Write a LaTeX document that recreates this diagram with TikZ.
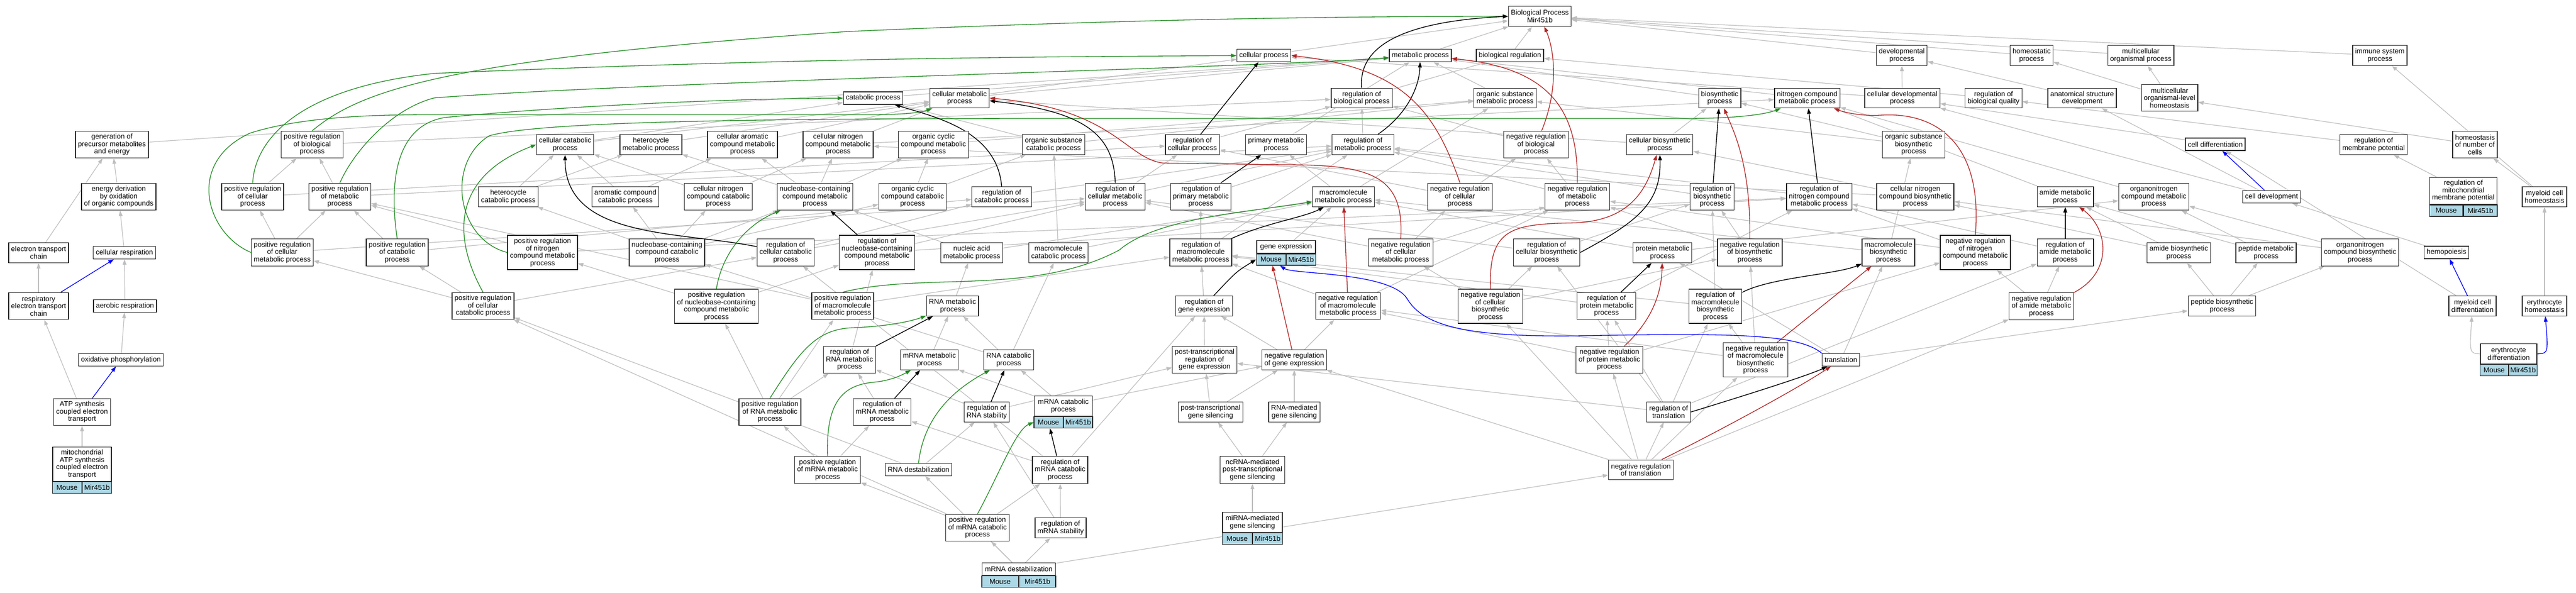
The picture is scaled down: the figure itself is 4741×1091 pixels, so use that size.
\documentclass[tikz,border=0pt]{standalone}
\usepackage{fontspec}
\setmainfont{Liberation Sans}
\usepackage{tikz}
\usetikzlibrary{arrows.meta}
\usetikzlibrary{backgrounds}
\definecolor{edgegray}{RGB}{190,190,190}
\definecolor{posgreen}{RGB}{34,139,34}
\definecolor{negred}{RGB}{178,34,34}
\definecolor{genecell}{RGB}{173,216,230}
\newcommand{\mirbar}[2]{%
  \node [mcell, minimum width=#2pt, anchor=north east] (#1a) at (#1.south) {Mouse};
  \node [mcell, minimum width=#2pt, anchor=north west] (#1b) at (#1.south) {Mir451b};}

\begin{document}
\begin{tikzpicture}[x=1pt, y=-1pt,
    go/.style={draw=black!85, line width=1.3pt, fill=white, align=center, inner xsep=4.5pt, inner ysep=0pt, font=\fontsize{13}{13.5}\selectfont},
    lna/.style={minimum height=23pt},
    lnb/.style={minimum height=36.5pt},
    lnc/.style={minimum height=49.5pt},
    lnd/.style={minimum height=63pt},
    mcell/.style={draw=black!85, line width=1.3pt, fill=genecell, inner sep=0pt, minimum height=21pt, font=\fontsize{13}{13.5}\selectfont},
    isa/.style={draw=edgegray, line width=1.2pt, -{Triangle[length=10pt,width=7pt]}},
    reg/.style={draw=black, line width=1.4pt, -{Triangle[length=10pt,width=7pt]}},
    posreg/.style={draw=posgreen, line width=1.3pt, -{Triangle[length=10pt,width=7pt]}},
    negreg/.style={draw=negred, line width=1.3pt, -{Triangle[length=10pt,width=7pt]}},
    partof/.style={draw=blue, line width=1.3pt, -{Triangle[length=10pt,width=7pt]}}]
    \useasboundingbox (0,0) rectangle (4741,1091);

    \node [go, lnb] (bp) at (2834, 30) {Biological Process\\Mir451b};

    \node [go, lna] (cellproc) at (2326, 102) {cellular process};
    \node [go, lna] (metproc) at (2614, 102) {metabolic process};
    \node [go, lna] (bioreg) at (2779, 102) {biological regulation};
    \node [go, lnb] (devproc) at (3500, 102) {developmental\\process};
    \node [go, lnb] (homproc) at (3739, 102) {homeostatic\\process};
    \node [go, lnb] (multproc) at (3940, 102) {multicellular\\organismal process};
    \node [go, lnb] (immproc) at (4380, 102) {immune system\\process};

    \node [go, lna] (catproc) at (1607, 180.5) {catabolic process};
    \node [go, lnb] (cellmet) at (1766, 180.5) {cellular metabolic\\process};
    \node [go, lnb] (regbio) at (2506, 180.5) {regulation of\\biological process};
    \node [go, lnb] (orgsubmet) at (2770, 180.5) {organic substance\\metabolic process};
    \node [go, lnb] (biosyn) at (3165, 180.5) {biosynthetic\\process};
    \node [go, lnb] (nitromet) at (3326, 180.5) {nitrogen compound\\metabolic process};
    \node [go, lnb] (celldevproc) at (3501, 180.5) {cellular developmental\\process};
    \node [go, lnb] (regqual) at (3669, 180.5) {regulation of\\biological quality};
    \node [go, lnb] (anatdev) at (3832, 180.5) {anatomical structure\\development};
    \node [go, lnc] (multhom) at (3993, 180) {multicellular\\organismal-level\\homeostasis};

    \node [go, lnc] (genprec) at (206, 266) {generation of\\precursor metabolites\\and energy};
    \node [go, lnc] (posregbio) at (574.5, 266) {positive regulation\\of biological\\process};
    \node [go, lnb] (cellcat) at (1040, 266) {cellular catabolic\\process};
    \node [go, lnb] (hetmet) at (1198, 266) {heterocycle\\metabolic process};
    \node [go, lnc] (cellarom) at (1366.5, 266) {cellular aromatic\\compound metabolic\\process};
    \node [go, lnc] (cellnitmet) at (1542.5, 266) {cellular nitrogen\\compound metabolic\\process};
    \node [go, lnc] (orgcycmet) at (1718, 266) {organic cyclic\\compound metabolic\\process};
    \node [go, lnb] (orgsubcat) at (1939, 266) {organic substance\\catabolic process};
    \node [go, lnb] (regcell) at (2194.5, 266) {regulation of\\cellular process};
    \node [go, lnb] (primmet) at (2348.5, 266) {primary metabolic\\process};
    \node [go, lnb] (regmet) at (2508.5, 266) {regulation of\\metabolic process};
    \node [go, lnc] (negregbio) at (2827, 266) {negative regulation\\of biological\\process};
    \node [go, lnb] (cellbiosyn) at (3054.5, 266) {cellular biosynthetic\\process};
    \node [go, lnc] (orgsubbiosyn) at (3522, 266) {organic substance\\biosynthetic\\process};
    \node [go, lna] (celldiff) at (4077, 265.5) {cell differentiation};
    \node [go, lnb] (regmemb) at (4368.5, 266) {regulation of\\membrane potential};
    \node [go, lnc] (homnum) at (4555, 266) {homeostasis\\of number of\\cells};

    \node [go, lnc] (energy) at (218.5, 362) {energy derivation\\by oxidation\\of organic compounds};
    \node [go, lnc] (posregcell) at (465, 362) {positive regulation\\of cellular\\process};
    \node [go, lnc] (posregmet) at (625.5, 362) {positive regulation\\of metabolic\\process};
    \node [go, lnb] (hetcat) at (935.5, 362) {heterocycle\\catabolic process};
    \node [go, lnb] (aromcat) at (1151, 362) {aromatic compound\\catabolic process};
    \node [go, lnc] (cellnitcat) at (1322, 362) {cellular nitrogen\\compound catabolic\\process};
    \node [go, lnc] (nucmet) at (1500, 362) {nucleobase-containing\\compound metabolic\\process};
    \node [go, lnc] (orgcyccat) at (1679.5, 362) {organic cyclic\\compound catabolic\\process};
    \node [go, lnb] (regcat) at (1843.5, 362) {regulation of\\catabolic process};
    \node [go, lnc] (regcellmet) at (2052.5, 362) {regulation of\\cellular metabolic\\process};
    \node [go, lnc] (regprimmet) at (2210, 362) {regulation of\\primary metabolic\\process};
    \node [go, lnb] (macromet) at (2472.5, 362) {macromolecule\\metabolic process};
    \node [go, lnc] (negregcell) at (2687, 362) {negative regulation\\of cellular\\process};
    \node [go, lnc] (negregmet) at (2903, 362) {negative regulation\\of metabolic\\process};
    \node [go, lnc] (regbiosyn) at (3151, 362) {regulation of\\biosynthetic\\process};
    \node [go, lnc] (regnitmet) at (3348, 362) {regulation of\\nitrogen compound\\metabolic process};
    \node [go, lnc] (cellnitbiosyn) at (3525, 362) {cellular nitrogen\\compound biosynthetic\\process};
    \node [go, lnb] (amidemet) at (3801, 362) {amide metabolic\\process};
    \node [go, lnc] (orgnitmet) at (3964, 362) {organonitrogen\\compound metabolic\\process};
    \node [go, lna] (celldev) at (4180.5, 362) {cell development};
    \node [go, lnc, minimum width=123.6pt] (regmito) at (4533.6, 351) {regulation of\\mitochondrial\\membrane potential};
    \mirbar{regmito}{61.8}
    \node [go, lnb] (myehom) at (4683, 362) {myeloid cell\\homeostasis};

    \node [go, lnb] (etc) at (71, 465) {electron transport\\chain};
    \node [go, lna] (cellresp) at (229, 465) {cellular respiration};
    \node [go, lnc] (posregcellmet) at (519.5, 464.5) {positive regulation\\of cellular\\metabolic process};
    \node [go, lnc] (posregcat) at (731, 464.5) {positive regulation\\of catabolic\\process};
    \node [go, lnd] (posregnit) at (998.5, 464.5) {positive regulation\\of nitrogen\\compound metabolic\\process};
    \node [go, lnc] (nuccat) at (1227.5, 464.5) {nucleobase-containing\\compound catabolic\\process};
    \node [go, lnc] (regcellcat) at (1446, 464.5) {regulation of\\cellular catabolic\\process};
    \node [go, lnd] (regnucmet) at (1614, 464.5) {regulation of\\nucleobase-containing\\compound metabolic\\process};
    \node [go, lnb] (nucacid) at (1788.5, 465) {nucleic acid\\metabolic process};
    \node [go, lnb] (macrocat) at (1948, 465) {macromolecule\\catabolic process};
    \node [go, lnc] (regmacromet) at (2210, 464.5) {regulation of\\macromolecule\\metabolic process};
    \node [go, lna, minimum width=108pt] (geneexp) at (2367, 454.2) {gene expression};
    \mirbar{geneexp}{54}
    \node [go, lnc] (negregcellmet) at (2578, 464.5) {negative regulation\\of cellular\\metabolic process};
    \node [go, lnc] (regcellbiosyn) at (2846.5, 464.5) {regulation of\\cellular biosynthetic\\process};
    \node [go, lnb] (protmet) at (3059.5, 465) {protein metabolic\\process};
    \node [go, lnc] (negregbiosyn) at (3220.5, 464.5) {negative regulation\\of biosynthetic\\process};
    \node [go, lnc] (macrobiosyn) at (3475.5, 464.5) {macromolecule\\biosynthetic\\process};
    \node [go, lnd] (negregnit) at (3635.5, 464.5) {negative regulation\\of nitrogen\\compound metabolic\\process};
    \node [go, lnc] (regamide) at (3801, 464.5) {regulation of\\amide metabolic\\process};
    \node [go, lnb] (amidebiosyn) at (4010, 465) {amide biosynthetic\\process};
    \node [go, lnb] (peptmet) at (4170.5, 465) {peptide metabolic\\process};
    \node [go, lnc] (orgnitbiosyn) at (4343.5, 464.5) {organonitrogen\\compound biosynthetic\\process};
    \node [go, lna] (hemo) at (4502.5, 464.5) {hemopoiesis};

    \node [go, lnc] (respetc) at (71, 563) {respiratory\\electron transport\\chain};
    \node [go, lna] (aerobic) at (230, 563) {aerobic respiration};
    \node [go, lnc] (posregcellcat) at (889, 563) {positive regulation\\of cellular\\catabolic process};
    \node [go, lnd] (posregnuc) at (1318.5, 563.5) {positive regulation\\of nucleobase-containing\\compound metabolic\\process};
    \node [go, lnc] (posregmacro) at (1551, 563) {positive regulation\\of macromolecule\\metabolic process};
    \node [go, lnb] (rnamet) at (1753, 563) {RNA metabolic\\process};
    \node [go, lnb] (reggene) at (2216, 563) {regulation of\\gene expression};
    \node [go, lnc] (negregmacromet) at (2481, 563) {negative regulation\\of macromolecule\\metabolic process};
    \node [go, lnd] (negregcellbiosyn) at (2743, 563.5) {negative regulation\\of cellular\\biosynthetic\\process};
    \node [go, lnc] (regprotmet) at (2956.5, 563) {regulation of\\protein metabolic\\process};
    \node [go, lnd] (regmacrobiosyn) at (3157, 563.5) {regulation of\\macromolecule\\biosynthetic\\process};
    \node [go, lnc] (negregamide) at (3757, 563.5) {negative regulation\\of amide metabolic\\process};
    \node [go, lnb] (peptbiosyn) at (4089.5, 563) {peptide biosynthetic\\process};
    \node [go, lnb] (myediff) at (4550.5, 563) {myeloid cell\\differentiation};
    \node [go, lnb] (eryhom) at (4683, 563) {erythrocyte\\homeostasis};

    \node [go, lna] (oxphos) at (222.5, 662) {oxidative phosphorylation};
    \node [go, lnc] (regrnamet) at (1563.5, 662) {regulation of\\RNA metabolic\\process};
    \node [go, lnb] (mrnamet) at (1710.5, 662) {mRNA metabolic\\process};
    \node [go, lnb] (rnacat) at (1856.5, 662) {RNA catabolic\\process};
    \node [go, lnc] (ptregex) at (2217, 662) {post-transcriptional\\regulation of\\gene expression};
    \node [go, lnb] (negreggene) at (2382, 662) {negative regulation\\of gene expression};
    \node [go, lnc] (negregprotmet) at (2962, 662) {negative regulation\\of protein metabolic\\process};
    \node [go, lnd] (negregmacrobiosyn) at (3231, 662) {negative regulation\\of macromolecule\\biosynthetic\\process};
    \node [go, lna] (transl) at (3388, 662) {translation};
    \node [go, lnb, minimum width=104pt] (erydiff) at (4617, 651) {erythrocyte\\differentiation};
    \mirbar{erydiff}{52}

    \node [go, lnc] (atp) at (151, 758) {ATP synthesis\\coupled electron\\transport};
    \node [go, lnc] (posregrna) at (1417, 758) {positive regulation\\of RNA metabolic\\process};
    \node [go, lnc] (regmrnamet) at (1623.5, 758) {regulation of\\mRNA metabolic\\process};
    \node [go, lnb] (regrnastab) at (1816, 758) {regulation of\\RNA stability};
    \node [go, lnb, minimum width=106.6pt] (mrnacat) at (1957, 747) {mRNA catabolic\\process};
    \mirbar{mrnacat}{53.3}
    \node [go, lnb] (ptgs) at (2228, 758) {post-transcriptional\\gene silencing};
    \node [go, lnb] (rnaigs) at (2382, 758) {RNA-mediated\\gene silencing};
    \node [go, lnb] (regtransl) at (3071, 758) {regulation of\\translation};

    \node [go, lnd, minimum width=108pt] (mito) at (151, 853.7) {mitochondrial\\ATP synthesis\\coupled electron\\transport};
    \mirbar{mito}{54}
    \node [go, lnc] (posregmrnamet) at (1523, 864.5) {positive regulation\\of mRNA metabolic\\process};
    \node [go, lna] (rnadestab) at (1690.5, 864) {RNA destabilization};
    \node [go, lnc] (regmrnacat) at (1951, 864.5) {regulation of\\mRNA catabolic\\process};
    \node [go, lnc] (ncrna) at (2305, 864.5) {ncRNA-mediated\\post-transcriptional\\gene silencing};
    \node [go, lnb] (negregtransl) at (3020, 864.5) {negative regulation\\of translation};

    \node [go, lnc] (posregmrnacat) at (1799, 971) {positive regulation\\of mRNA catabolic\\process};
    \node [go, lnb] (regmrnastab) at (1952, 971) {regulation of\\mRNA stability};
    \node [go, lnb, minimum width=110pt] (mirna) at (2305, 961) {miRNA-mediated\\gene silencing};
    \mirbar{mirna}{55}

    \node [go, lna, minimum width=134.8pt] (mrnadestab) at (1875, 1047) {mRNA destabilization};
    \mirbar{mrnadestab}{67.4}

    \begin{scope}[on background layer]
    \foreach \a/\b in {cellproc/bp, metproc/bp, bioreg/bp, devproc/bp, homproc/bp, multproc/bp, immproc/bp,
        catproc/metproc, cellmet/cellproc, cellmet/metproc, regbio/bioreg, orgsubmet/metproc, biosyn/metproc,
        nitromet/metproc, celldevproc/cellproc, celldevproc/devproc, regqual/bioreg, anatdev/devproc,
        multhom/multproc, multhom/homproc,
        genprec/metproc, posregbio/regbio, cellcat/catproc, cellcat/cellmet, hetmet/cellmet, cellarom/cellmet,
        cellnitmet/cellmet, cellnitmet/nitromet, orgcycmet/orgsubmet, orgsubcat/catproc, orgsubcat/orgsubmet,
        regcell/regbio, primmet/metproc, regmet/regbio, negregbio/regbio, cellbiosyn/biosyn, cellbiosyn/cellmet,
        orgsubbiosyn/biosyn, orgsubbiosyn/orgsubmet, celldiff/celldevproc, regmemb/regqual, homnum/multhom,
        energy/genprec, posregcell/posregbio, posregcell/regcell, posregmet/posregbio, posregmet/regmet,
        hetcat/cellcat, hetcat/hetmet, aromcat/cellcat, aromcat/cellarom, cellnitcat/cellcat, cellnitcat/cellnitmet,
        nucmet/hetmet, nucmet/cellarom, nucmet/cellnitmet, nucmet/orgcycmet, orgcyccat/orgcycmet, orgcyccat/orgsubcat,
        regcat/regmet, regcellmet/regmet, regcellmet/regcell, regprimmet/regmet, macromet/orgsubmet, macromet/primmet,
        negregcell/negregbio, negregcell/regcell, negregmet/negregbio, negregmet/regmet, regbiosyn/regmet,
        regnitmet/regmet, cellnitbiosyn/cellnitmet, cellnitbiosyn/cellbiosyn, amidemet/nitromet, orgnitmet/nitromet,
        celldev/celldevproc, celldev/anatdev, regmito/regmemb, myehom/homnum, myehom/immproc,
        etc/genprec, cellresp/energy, posregcellmet/posregcell, posregcellmet/posregmet, posregcellmet/regcellmet,
        posregcat/posregmet, posregcat/regcat, posregnit/posregmet, posregnit/regnitmet,
        nuccat/hetcat, nuccat/aromcat, nuccat/cellnitcat, nuccat/nucmet, nuccat/orgcyccat,
        regcellcat/regcat, regcellcat/regcellmet, regnucmet/regcellmet, regnucmet/regnitmet,
        nucacid/nucmet, nucacid/macromet, macrocat/orgsubcat, macrocat/macromet, regmacromet/regmet,
        regmacromet/regprimmet, geneexp/macromet, negregcellmet/negregcell, negregcellmet/negregmet,
        negregcellmet/regcellmet, regcellbiosyn/regcellmet, regcellbiosyn/regbiosyn, protmet/macromet,
        protmet/orgnitmet, negregbiosyn/negregmet, negregbiosyn/regbiosyn, macrobiosyn/macromet,
        macrobiosyn/orgsubbiosyn, negregnit/negregmet, negregnit/regnitmet, regamide/regnitmet,
        amidebiosyn/amidemet, amidebiosyn/cellnitbiosyn, peptmet/amidemet, peptmet/orgnitmet,
        orgnitbiosyn/orgnitmet, orgnitbiosyn/cellnitbiosyn, hemo/celldev,
        respetc/etc, aerobic/cellresp, posregcellcat/posregcellmet, posregcellcat/posregcat, posregcellcat/regcellcat,
        posregnuc/posregnit, posregnuc/regnucmet, posregmacro/posregmet, posregmacro/regmacromet, rnamet/nucacid,
        reggene/regmacromet, negregmacromet/negregmet, negregmacromet/regmacromet, negregcellbiosyn/negregcellmet,
        negregcellbiosyn/regcellbiosyn, negregcellbiosyn/negregbiosyn, regprotmet/regmacromet, regprotmet/regnitmet,
        regmacrobiosyn/regbiosyn, regmacrobiosyn/regmacromet, negregamide/regamide, negregamide/negregnit,
        peptbiosyn/amidebiosyn, peptbiosyn/peptmet, peptbiosyn/orgnitbiosyn, myediff/celldiff, eryhom/myehom,
        oxphos/aerobic, regrnamet/regnucmet, mrnamet/rnamet, rnacat/rnamet, rnacat/macrocat, rnacat/nuccat,
        ptregex/reggene, negreggene/reggene, negreggene/negregmacromet, negregprotmet/regprotmet,
        negregprotmet/negregmacromet, negregprotmet/negregnit, negregmacrobiosyn/regmacrobiosyn,
        negregmacrobiosyn/negregbiosyn, negregmacrobiosyn/negregmacromet, transl/macrobiosyn, transl/peptbiosyn,
        transl/protmet,
        atp/respetc, posregrna/posregnuc, posregrna/regrnamet, posregrna/posregmacro, regmrnamet/regrnamet,
        regrnastab/regrnamet, regrnastab/ptregex, mrnacat/rnacat, mrnacat/mrnamet, mrnacat/negreggene,
        ptgs/ptregex, ptgs/negreggene, rnaigs/negreggene, regtransl/ptregex, regtransl/regprotmet,
        regtransl/regmacrobiosyn, regtransl/regcellbiosyn, regtransl/regamide,
        mito/atp, posregmrnamet/posregrna, posregmrnamet/regmrnamet, rnadestab/regrnastab, rnadestab/posregcellcat,
        regmrnacat/regmrnamet, regmrnacat/regcellcat, regmrnacat/reggene, ncrna/ptgs, ncrna/rnaigs,
        negregtransl/regtransl, negregtransl/negregprotmet, negregtransl/negreggene, negregtransl/negregcellbiosyn,
        negregtransl/negregmacrobiosyn, negregtransl/negregamide,
        posregmrnacat/regmrnacat, posregmrnacat/posregmrnamet, posregmrnacat/posregcellcat,
        regmrnastab/regmrnacat, regmrnastab/regrnastab, mirna/ncrna,
        mrnadestab/posregmrnacat, mrnadestab/regmrnastab, mrnadestab/rnadestab, mrnadestab/negregtransl}
        \draw [isa] (\a) -- (\b);
    \draw [isa] (erydiff.west) .. controls (4545,650) .. (myediff);

    \draw [posreg] (posregbio.north) .. controls (660,170) and (800,110) .. (1560,58) .. controls (2100,34) and (2500,30) .. (bp);
    \draw [posreg] (posregcell.north) .. controls (470,250) and (560,160) .. (800,135) .. controls (1500,105) and (2000,104) .. (cellproc);
    \draw [posreg] (posregmet.north) .. controls (650,280) and (720,200) .. (800,180) .. controls (1200,150) and (2300,125) .. (metproc);
    \draw [posreg] (posregcellmet.west) .. controls (380,430) and (340,300) .. (460,245) .. controls (560,213) and (700,211) .. (800,211) -- (1600,211) .. controls (1680,211) and (1700,205) .. (cellmet);
    \draw [posreg] (posregcat.north) .. controls (715,330) and (730,230) .. (820,216) .. controls (1100,190) and (1400,181) .. (catproc);
    \draw [posreg] (posregnit.west) .. controls (840,440) and (820,300) .. (900,250) .. controls (1000,220) and (1500,218) .. (2000,218) -- (3100,218) .. controls (3200,218) and (3250,210) .. (nitromet);
    \draw [posreg] (posregcellcat.north) .. controls (840,450) and (820,330) .. (cellcat.west);
    \draw [posreg] (posregnuc.north) .. controls (1330,460) and (1380,410) .. (nucmet);
    \draw [posreg] (posregmacro.north) .. controls (1700,500) and (1900,545) .. (2060,460) .. controls (2130,400) and (2300,390) .. (macromet);
    \draw [posreg] (posregrna.north) .. controls (1470,650) and (1500,605) .. (1570,603) .. controls (1640,600) and (1680,590) .. (rnamet);
    \draw [posreg] (posregmrnamet.north) .. controls (1520,740) and (1550,708) .. (1610,703) .. controls (1640,700) and (1660,690) .. (mrnamet);
    \draw [posreg] (rnadestab.north) .. controls (1700,770) and (1750,720) .. (rnacat);
    \draw [posreg] (posregmrnacat.north) .. controls (1840,870) and (1870,790) .. (mrnacata.west);

    \draw [reg] (regbio.north) .. controls (2500,90) and (2570,40) .. (bp.west);
    \draw [reg] (regcell) -- (cellproc);
    \draw [reg] (regmet) .. controls (2590,210) and (2612,160) .. (metproc);
    \draw [reg] (regcellmet.north) .. controls (2050,250) and (2000,205) .. ([yshift=-5pt]cellmet.east);
    \draw [reg] (regcat.north) .. controls (1835,240) and (1720,215) .. (catproc);
    \draw [reg] (regcellcat) .. controls (1250,425) and (1040,440) .. (cellcat);
    \draw [reg] (regnucmet) -- (nucmet);
    \draw [reg] (regprimmet) -- (primmet);
    \draw [reg] (regmacromet) .. controls (2330,410) and (2400,400) .. (macromet);
    \draw [reg] (regrnamet) -- (rnamet);
    \draw [reg] (regmrnamet) -- (mrnamet);
    \draw [reg] (regrnastab) -- (rnacat);
    \draw [reg] (regmrnacat) -- (mrnacata);
    \draw [reg] (reggene) .. controls (2275,500) .. (geneexpa.west);
    \draw [reg] (regbiosyn) -- (biosyn);
    \draw [reg] (regnitmet) -- (nitromet);
    \draw [reg] (regcellbiosyn.east) .. controls (3020,405) and (3057,370) .. (cellbiosyn);
    \draw [reg] (regprotmet) -- (protmet);
    \draw [reg] (regmacrobiosyn) .. controls (3260,510) and (3380,505) .. (macrobiosyn);
    \draw [reg] (regamide) -- (amidemet);
    \draw [reg] (regtransl.east) .. controls (3220,725) and (3330,690) .. (transl);

    \draw [negreg] (negregbio) .. controls (2870,160) and (2860,90) .. (bp);
    \draw [negreg] (negregcell.north) .. controls (2640,200) and (2580,125) .. (cellproc.east);
    \draw [negreg] (negregmet.north) .. controls (2905,200) and (2850,125) .. (metproc);
    \draw [negreg] (negregcellmet.north) .. controls (2585,320) and (2520,303) .. (2360,303) -- (2140,300) .. controls (2070,290) and (2050,200) .. (cellmet.east);
    \draw [negreg] (negregbiosyn.north) .. controls (3222,300) and (3190,240) .. (biosyn);
    \draw [negreg] (negregnit.north) .. controls (3650,260) and (3560,205) .. (3460,212) .. controls (3420,214) and (3390,205) .. (nitromet);
    \draw [negreg] (negregmacromet) -- (macromet);
    \draw [negreg] (negregcellbiosyn.north) .. controls (2740,420) and (2780,412) .. (2900,410) .. controls (3000,405) and (3030,350) .. (cellbiosyn);
    \draw [negreg] (negregprotmet) .. controls (3040,590) and (3058,540) .. (protmet);
    \draw [negreg] (negregmacrobiosyn) -- (macrobiosyn);
    \draw [negreg] (negregamide.north east) .. controls (3890,500) and (3880,420) .. (amidemet);
    \draw [negreg] (negregtransl) .. controls (3150,800) and (3300,720) .. (transl);
    \draw [negreg] (negreggene) -- (geneexpa);

    \draw [partof] (respetc) -- (cellresp);
    \draw [partof] (atp) -- (oxphos);
    \draw [partof] (transl.north west) .. controls (3310,615) and (3200,612) .. (2900,618) .. controls (2700,620) and (2620,600) .. (2590,550) .. controls (2560,500) and (2380,505) .. (geneexpa);
    \draw [partof] (celldev) -- (celldiff);
    \draw [partof] (myediff) -- (hemo);
    \draw [partof] (erydiff.east) .. controls (4690,650) .. (eryhom);
    \end{scope}
\end{tikzpicture}
\end{document}
